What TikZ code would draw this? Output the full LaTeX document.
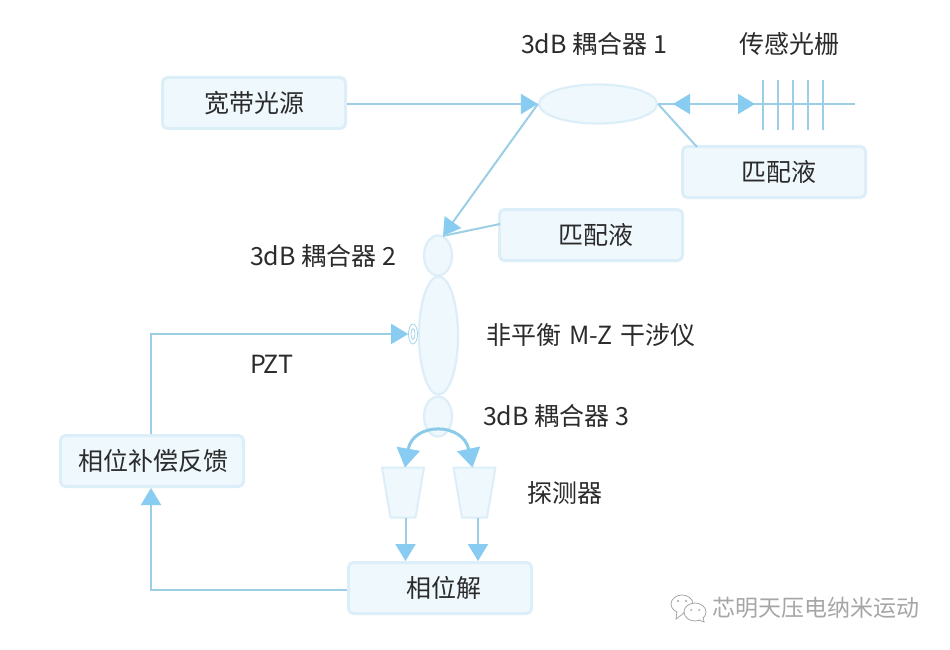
\documentclass[tikz,border=0pt]{standalone}
\usepackage{fontspec}
\setmainfont{Noto Sans CJK SC}
\usetikzlibrary{arrows.meta,shapes.geometric}
\definecolor{boxfill}{HTML}{EFF8FD}
\definecolor{boxline}{HTML}{DCEFF8}
\definecolor{wire}{HTML}{9CCFE6}
\definecolor{arcw}{HTML}{8CCBE8}
\definecolor{tipc}{HTML}{88CCF2}
\definecolor{ink}{HTML}{2B2B2B}
\tikzset{
  lab/.style={font=\fontsize{25}{29}\selectfont,text=ink,inner sep=0pt},
  boxn/.style={lab,draw=boxline,fill=boxfill,line width=3pt,rounded corners=5pt,minimum width=183pt,minimum height=51pt},
  ell/.style={ellipse,draw=boxline,fill=boxfill,line width=2.2pt,inner sep=0pt},
  det/.style={inner sep=0pt,outer sep=0pt,minimum width=42pt,minimum height=50pt},
  detshape/.style={draw=boxline,fill=boxfill,line width=2pt,line join=round},
  wirel/.style={draw=wire,line width=2pt},
  arr/.style={wirel,-{Triangle[length=17pt,width=20pt,color=tipc]}},
  arrb/.style={wirel,{Triangle[length=17pt,width=20pt,color=tipc]}-{Triangle[length=17pt,width=20pt,color=tipc]}},
  arrc/.style={draw=arcw,line width=3pt,{Triangle[length=19pt,width=23pt,color=tipc]}-{Triangle[length=19pt,width=23pt,color=tipc]}},
}
\newcommand{\detbody}[1]{\draw[detshape] (#1.north west) -- (#1.north east) -- ([xshift=-8.5pt]#1.south east) -- ([xshift=8.5pt]#1.south west) -- cycle;}
\begin{document}
\begin{tikzpicture}[x=1pt,y=-1pt]
\useasboundingbox (0,0) rectangle (950,650);
\fill[white] (0,0) rectangle (950,650);
% boxes
\node[boxn] (src) at (254,103) {宽带光源};
\node[boxn] (matchA) at (774,172) {\hspace*{10pt}匹配液};
\node[boxn] (matchB) at (591,235) {\hspace*{10pt}匹配液};
\node[boxn] (fb) at (152,461) {\hspace*{2pt}相位补偿反馈};
\node[boxn] (phase) at (440,588) {\hspace*{8pt}相位解};
% couplers
\node[ell,minimum width=118pt,minimum height=39pt] (cA) at (598,104) {};
\node[ell,minimum width=28pt,minimum height=40pt] (cB) at (438,255.5) {};
\node[ell,minimum width=39pt,minimum height=118pt] (mz) at (438.5,335.5) {};
\node[ell,minimum width=28pt,minimum height=40pt] (cC) at (438,416.5) {};
% PZT
\node[ellipse,draw=wire,line width=.7pt,minimum width=9pt,minimum height=20pt,inner sep=0pt] (pzt) at (413,334) {};
\node[ellipse,draw=wire,line width=.7pt,minimum width=4pt,minimum height=11pt,inner sep=0pt] (pztin) at (413,334) {};
% detectors
\node[det] (detA) at (403,492.5) {};
\node[det] (detB) at (474.5,492.5) {};
\detbody{detA}
\detbody{detB}
% grating
\coordinate (gEnd) at (855,104);
\coordinate (gTip) at (755,104);
\coordinate (gBack) at (673,104);
\coordinate (mTop) at (697,147);
\coordinate (mB) at (500,224);
\foreach \x/\n in {763/a,778/b,793/c,808/d,823/e}{
  \coordinate (g\n T) at (\x,80);
  \coordinate (g\n B) at (\x,130);
  \draw[wirel] (g\n T) -- (g\n B);
}
% connectors
\draw[arr] (src.east |- cA.west) -- (cA.west);
\draw[wirel] (cA.east) -- (gEnd);
\draw[arrb] (gBack) -- (gTip);
\draw[wirel] (cA.east) -- (mTop);
\draw[arr] (cA.west) -- ([xshift=5pt,yshift=-1.5pt]cB.north);
\draw[wirel] (mB) -- ([xshift=5pt,yshift=-1.5pt]cB.north);
\draw[arr] ([xshift=-1pt]fb.north) |- (pzt.west);
\draw[arr] ([yshift=-2pt]phase.west) -| ([xshift=-1pt]fb.south);
\draw[arr] ([xshift=2.5pt]detA.south) -- ([xshift=-34.5pt]phase.north);
\draw[arr] ([xshift=3.5pt]detB.south) -- ([xshift=38pt]phase.north);
\draw[arrc] ([xshift=2pt]detA.north) .. controls (413,422) and (463,422) .. ([xshift=-2pt]detB.north);
% labels
\node[lab] (t1) at (594,44) {3dB 耦合器 1};
\node[lab] (t2) at (789,44) {传感光栅};
\node[lab] (t3) at (323,256) {3dB 耦合器 2};
\node[lab] (t4) at (591,335) {非平衡\hspace{.1em} M-Z \hspace{.1em}干涉仪};
\node[lab] (t5) at (272,364) {PZT};
\node[lab] (t6) at (556,416) {3dB 耦合器 3};
\node[lab] (t7) at (565,493) {探测器};
% watermark
\begin{scope}[draw=gray!70,line width=.8pt]
\draw[fill=white] (682,604) ellipse (11 and 9);
\draw[fill=white] (677,611) -- (676,619) -- (684,613);
\draw[fill=white] (695,612) ellipse (11 and 9);
\draw[fill=white] (699,620) -- (704,622) -- (703,617);
\fill[gray!70] (678,601) circle (1.2) (686,601) circle (1.2) (691,610) circle (1) (699,610) circle (1);
\end{scope}
\node[font=\fontsize{23}{26}\selectfont,text=gray!70,inner sep=0pt] (wm) at (816,608) {芯明天压电纳米运动};
\end{tikzpicture}
\end{document}
